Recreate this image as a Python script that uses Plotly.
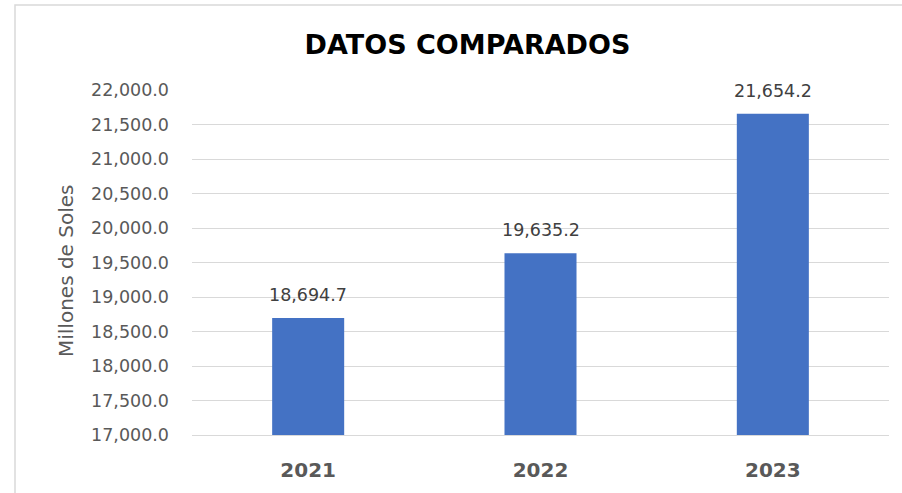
import plotly.graph_objects as go

categories = ["2021", "2022", "2023"]
values = [18694.7, 19635.2, 21654.2]
tick_vals = [17000, 17500, 18000, 18500, 19000, 19500, 20000, 20500, 21000, 21500, 22000]
tick_text = [f"{v:,.1f}" for v in tick_vals]
title_text = "DATOS COMPARADOS"
y_title = "Millones de Soles"

W, H = 902, 493
L, R, T, B = 192, 13, 90, 58
pw, ph = W - L - R, H - T - B

FONT = "DejaVu Sans"

fig = go.Figure()
fig.add_trace(go.Bar(
    x=categories, y=values,
    marker=dict(color="#4472C4", line=dict(width=0)),
    hoverinfo="skip",
))

annotations = []
for i, v in enumerate(values):
    annotations.append(dict(
        x=i, y=v, xref="x", yref="y",
        text=f"{v:,.1f}", showarrow=False,
        yanchor="bottom", yshift=11,
        font=dict(family=FONT, size=17.5, color="#404040"),
    ))

# y axis title
annotations.append(dict(
    x=(66 - L) / pw, y=(H - B - 270) / ph, xref="paper", yref="paper",
    text=y_title, textangle=-90, showarrow=False,
    xanchor="center", yanchor="middle",
    font=dict(family=FONT, size=20, color="#595959"),
))

shapes = [dict(
    type="rect", xref="paper", yref="paper",
    x0=(15 - L) / pw, x1=(W + 20 - L) / pw,
    y0=(H - B - (H + 20)) / ph, y1=(H - B - 5) / ph,
    line=dict(color="#D9D9D9", width=1.5), fillcolor="rgba(0,0,0,0)",
)]

fig.update_layout(
    width=W, height=H,
    margin=dict(l=L, r=R, t=T, b=B, autoexpand=False),
    paper_bgcolor="white", plot_bgcolor="white",
    bargap=0.69,
    showlegend=False,
    title=dict(
        text=f"<b>{title_text}</b>",
        x=467.5 / W, xanchor="center", xref="container",
        y=1 - 45 / H, yanchor="middle", yref="container",
        font=dict(family=FONT, size=27, color="#000000"),
    ),
    annotations=annotations,
    shapes=shapes,
)

fig.update_yaxes(
    range=[17000, 22000], automargin=False,
    tickvals=tick_vals, ticktext=tick_text,
    showgrid=True, gridcolor="#D9D9D9", gridwidth=1,
    zeroline=False, showline=False, ticks="",
    ticklabelstandoff=22,
    tickfont=dict(family=FONT, size=17.5, color="#595959"),
)
fig.update_xaxes(
    type="category", range=[-0.5, 2.5], automargin=False,
    showgrid=False, zeroline=False,
    showline=True, linecolor="#D9D9D9", linewidth=1,
    ticks="",
    ticklabelstandoff=17,
    tickfont=dict(family=FONT, size=20, color="#595959", weight="bold"),
)

fig.write_html("out.html", config={"displayModeBar": False},
               post_script="document.body.style.margin='0';")
